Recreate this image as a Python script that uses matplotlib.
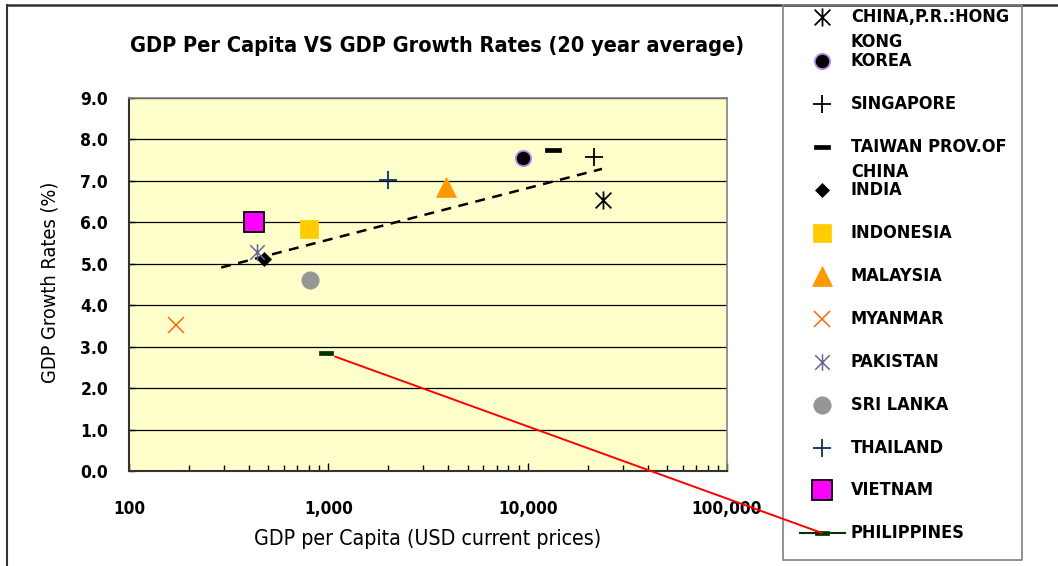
import matplotlib
matplotlib.use("Agg")
import matplotlib.pyplot as plt
from matplotlib.path import Path
from matplotlib.patches import ConnectionPatch
from matplotlib.lines import Line2D
from matplotlib import font_manager
import numpy as np

plt.rcParams['font.family'] = ['DejaVu Sans']
has_cond = any(f.name == 'DejaVu Sans' and f.stretch in ('condensed', 'semi-condensed', 600, 500)
               for f in font_manager.fontManager.ttflist)
STRETCH = 'condensed' if has_cond else 'normal'
plt.rcParams['font.stretch'] = STRETCH
SC = 1.0 if has_cond else 0.9

# ---------------- data ----------------
countries = ["CHINA,P.R.:HONG\nKONG", "KOREA", "SINGAPORE", "TAIWAN PROV.OF\nCHINA",
             "INDIA", "INDONESIA", "MALAYSIA", "MYANMAR", "PAKISTAN", "SRI LANKA",
             "THAILAND", "VIETNAM", "PHILIPPINES"]
gdp_per_capita = [23800, 9500, 21600, 13400, 475, 800, 3880, 173, 440, 813, 2000, 426, 973]
gdp_growth = [6.53, 7.55, 7.57, 7.75, 5.12, 5.85, 6.85, 3.53, 5.29, 4.60, 7.02, 6.00, 2.85]

trend_x = [290, 23600]
trend_y = [4.91, 7.29]

y_ticks = [0, 1, 2, 3, 4, 5, 6, 7, 8, 9]
x_ticks = [100, 1000, 10000, 100000]
x_tick_labels = ["100", "1,000", "10,000", "100,000"]

title = "GDP Per Capita VS GDP Growth Rates (20 year average)"
x_label = "GDP per Capita (USD current prices)"
y_label = "GDP Growth Rates (%)"

# ---------------- marker styles ----------------
star6 = Path([(-1, -1), (1, 1), (-1, 1), (1, -1), (0, -1.15), (0, 1.15)],
             [Path.MOVETO, Path.LINETO, Path.MOVETO, Path.LINETO, Path.MOVETO, Path.LINETO])
dash = Path([(-1.5, -0.45), (1.5, -0.45), (1.5, 0.45), (-1.5, 0.45), (-1.5, -0.45)],
            [Path.MOVETO, Path.LINETO, Path.LINETO, Path.LINETO, Path.CLOSEPOLY])

styles = [
    dict(marker=star6, ms=13, mfc='none', mec='black', mew=1.3),
    dict(marker='o', ms=11, mfc='black', mec='#B58CE8', mew=1.3),
    dict(marker='+', ms=13, mfc='none', mec='black', mew=1.3),
    dict(marker=dash, ms=11, mfc='black', mec='black', mew=0.5),
    dict(marker='D', ms=7, mfc='black', mec='black', mew=0.5),
    dict(marker='s', ms=12.5, mfc='#FFCC00', mec='#FFCC00', mew=0.5),
    dict(marker='^', ms=14, mfc='#FF9900', mec='#FF9900', mew=0.5),
    dict(marker='x', ms=12, mfc='none', mec='#FF6600', mew=1.1),
    dict(marker=star6, ms=12, mfc='none', mec='#666699', mew=1.1),
    dict(marker='o', ms=12.5, mfc='#969696', mec='#969696', mew=0.5),
    dict(marker='+', ms=13, mfc='none', mec='#003366', mew=1.3),
    dict(marker='s', ms=14, mfc='#FF00FF', mec='black', mew=1.3),
    dict(marker=dash, ms=10, mfc='#003300', mec='#003300', mew=0.5),
]

W, H = 1058, 566
fig = plt.figure(figsize=(W / 100, H / 100), dpi=100)

# main plot axes (pixel box: x 129..727, y 98..471)
ax = fig.add_axes([129 / W, 1 - 471 / H, (727 - 129) / W, (471 - 98) / H])
ax.set_facecolor('#FFFFCC')
ax.set_xscale('log')
ax.set_xlim(100, 100000)
ax.set_ylim(0, 9)

for x, y, st in zip(gdp_per_capita, gdp_growth, styles):
    ax.plot([x], [y], linestyle='none', zorder=4, **st)

ax.plot(trend_x, trend_y, linestyle=(0, (4, 3)), color='black', lw=1.8, zorder=3)

ax.set_yticks(y_ticks)
ax.set_yticklabels([f"{v:.1f}" for v in y_ticks], fontsize=12.5 * SC, fontweight='bold')
ax.set_xticks(x_ticks)
ax.set_xticklabels(x_tick_labels, fontsize=12.3 * SC, fontweight='bold')
ax.grid(axis='y', color='black', lw=0.9)
ax.grid(axis='x', visible=False)
ax.set_axisbelow(True)
ax.tick_params(axis='x', which='major', direction='in', length=6, width=1, pad=21)
ax.tick_params(axis='x', which='minor', direction='in', length=4, width=1)
ax.tick_params(axis='y', which='major', direction='in', length=4, width=1, pad=15)
ax.tick_params(axis='y', which='minor', left=False)
ax.xaxis.set_minor_formatter(matplotlib.ticker.NullFormatter())

for side in ['left', 'bottom']:
    ax.spines[side].set_color('#333333')
    ax.spines[side].set_linewidth(1.5)
for side in ['top', 'right']:
    ax.spines[side].set_color('#808080')
    ax.spines[side].set_linewidth(1.2)

ax.set_xlabel(x_label, fontsize=15.3 * SC, labelpad=8)
ax.set_ylabel(y_label, fontsize=14.3 * SC)
ax.yaxis.set_label_coords(-0.117, 0.505)

# overlay axes in pixel coordinates for title, legend, frame
ov = fig.add_axes([0, 0, 1, 1])
ov.set_xlim(0, W)
ov.set_ylim(H, 0)
ov.axis('off')
ov.patch.set_visible(False)

ov.text(437, 46, title, fontsize=15.6 * SC, fontweight='bold', ha='center', va='center')

# outer chart frame
ov.add_line(Line2D([7, 7], [5, H + 5], color='#333333', lw=1.5))
ov.add_line(Line2D([7, W + 5], [5, 5], color='#333333', lw=1.8))

# legend box
ov.add_line(Line2D([783, 1022, 1022, 783, 783], [5, 5, 560, 560, 5], color='#808080', lw=1.2))

leg_y = [17, 61, 104, 147, 190, 233, 276, 319, 362, 405, 448, 490, 533]
for lab, yy, st in zip(countries, leg_y, styles):
    if lab == "PHILIPPINES":
        ov.plot([800, 845], [yy, yy], color='#003300', lw=1.5)
    ov.plot([822], [yy], linestyle='none', **st)
    ov.text(851, yy - 9, lab, fontsize=13 * SC, fontweight='bold', ha='left', va='top',
            linespacing=1.5)

# leader line from the Philippines point to its legend entry
con = ConnectionPatch(xyA=(1082, 2.76), coordsA=ax.transData,
                      xyB=(822, 533), coordsB=ov.transData,
                      color='red', lw=1.4)
fig.add_artist(con)

fig.savefig("out.png", dpi=100)
